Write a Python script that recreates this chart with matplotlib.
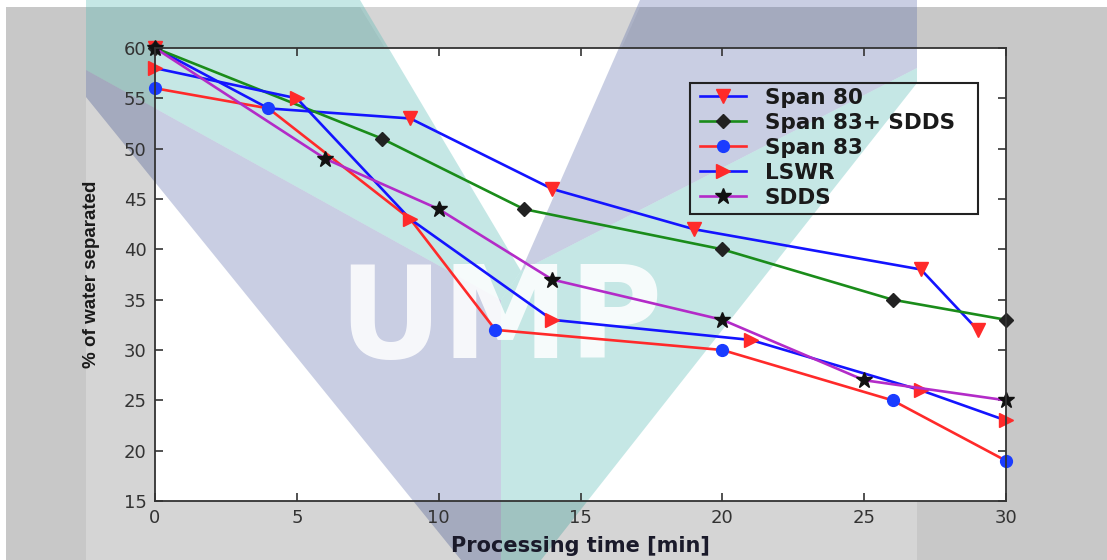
import matplotlib
matplotlib.use("Agg")
import matplotlib.pyplot as plt
from matplotlib.patches import Polygon, Rectangle

# ---------------- data ----------------
span80_x = [0, 4, 9, 14, 19, 27, 29]
span80_y = [60, 54, 53, 46, 42, 38, 32]

span83sdds_x = [0, 8, 13, 20, 26, 30]
span83sdds_y = [60, 51, 44, 40, 35, 33]

span83_x = [0, 4, 9, 12, 20, 26, 30]
span83_y = [56, 54, 43, 32, 30, 25, 19]

lswr_x = [0, 5, 9, 14, 21, 27, 30]
lswr_y = [58, 55, 43, 33, 31, 26, 23]

sdds_x = [0, 6, 10, 14, 20, 25, 30]
sdds_y = [60, 49, 44, 37, 33, 27, 25]

labels = ["Span 80", "Span 83+ SDDS", "Span 83", "LSWR", "SDDS"]
xticks = [0, 5, 10, 15, 20, 25, 30]
yticks = [15, 20, 25, 30, 35, 40, 45, 50, 55, 60]

W, H = 1107, 560
fig = plt.figure(figsize=(W / 100, H / 100), dpi=100)
fig.patch.set_facecolor("white")


def P(x, y):
    return (x / W, 1 - y / H)


def poly(pts, **kw):
    fig.add_artist(Polygon([P(*p) for p in pts], closed=True, transform=fig.transFigure,
                           linewidth=0, **kw))


# gray figure background and white plot area
fig.add_artist(Rectangle(P(6, 560), (W - 6) / W, (560 - 7) / H, transform=fig.transFigure,
                         facecolor="#c8c8c8", edgecolor="none", zorder=-3))
fig.add_artist(Rectangle(P(155, 501), 851 / W, 453 / H, transform=fig.transFigure,
                         facecolor="white", edgecolor="none", zorder=-2))

# watermark (light background pieces)
for pts in ([(86, 97), (461, 560), (86, 560)],
            [(360, 7), (640, 7), (521, 271)],
            [(917, 83), (541, 560), (917, 560)]):
    poly(pts, facecolor="white", alpha=0.25, zorder=-1)

teal = "#4fb9b3"
lav = "#5b6daa"
poly([(86, 0), (360, 0), (521, 271), (501, 300), (86, 70)], facecolor=teal, alpha=0.33, zorder=-0.5)
poly([(86, 70), (501, 300), (501, 560), (461, 560), (86, 97)], facecolor=lav, alpha=0.33, zorder=-0.5)
poly([(640, 0), (917, 0), (917, 68), (521, 271)], facecolor=lav, alpha=0.33, zorder=-0.5)
poly([(521, 271), (917, 68), (917, 83), (541, 560), (501, 560), (501, 300)], facecolor=teal,
     alpha=0.33, zorder=-0.5)
fig.text(500 / W, 1 - 358 / H, "UMP", color="white", alpha=0.85, fontsize=92,
         family="DejaVu Sans", fontweight="bold", ha="center", va="baseline", zorder=-0.4)

ax = fig.add_axes([155 / W, 59 / H, 851 / W, 453 / H])
ax.set_facecolor("none")
ax.set_zorder(1)

lw = 1.9
ms = 10
red = "#ff2a2a"
blue = "#1414ff"
ax.plot(span80_x, span80_y, color=blue, lw=lw, marker="v", ms=ms, mfc=red, mec=red,
        markevery=[0, 2, 3, 4, 5, 6], label=labels[0], clip_on=False)
ax.plot(span83sdds_x, span83sdds_y, color="#1a8c1a", lw=lw, marker="D", ms=7.5, mfc="#222222",
        mec="#222222", label=labels[1], clip_on=False)
ax.plot(span83_x, span83_y, color=red, lw=lw, marker="o", ms=8.5, mfc="#1a3cff", mec="#1a3cff",
        markevery=[0, 1, 3, 4, 5, 6], label=labels[2], clip_on=False)
ax.plot(lswr_x, lswr_y, color=blue, lw=lw, marker=">", ms=ms, mfc=red, mec=red,
        label=labels[3], clip_on=False)
ax.plot(sdds_x, sdds_y, color="#b32bc8", lw=lw, marker="*", ms=12, mfc="#111111", mec="#111111",
        label=labels[4], clip_on=False)

ax.set_xlim(0, 30)
ax.set_ylim(15, 60)
ax.set_xticks(xticks)
ax.set_yticks(yticks)
ax.tick_params(direction="in", length=6, width=1.2, top=True, right=True, colors="#333333",
               labelsize=13, pad=6)
for s in ax.spines.values():
    s.set_color("#333333")
    s.set_linewidth(1.3)

ax.set_xlabel("Processing time [min]", fontsize=15, fontweight="bold", color="#1a1a2a",
              family="DejaVu Sans", labelpad=6)
ax.set_ylabel("% of water separated", fontsize=13.5, fontweight="bold", color="#1a1a1a",
              family="Liberation Sans", labelpad=17)

# legend: entries without frame, plus a box at the reference position
leg = ax.legend(loc="upper left", bbox_to_anchor=((700 - 155) / 851, (501 - 88) / 453),
                borderaxespad=0, prop={"weight": "bold", "size": 15.5},
                handlelength=2.15, handletextpad=0.85, labelspacing=0.23, borderpad=0,
                frameon=False)
for t in leg.get_texts():
    t.set_color("#1a1a1a")
fig.add_artist(Rectangle(P(690, 214), (978 - 690) / W, (214 - 83) / H, transform=fig.transFigure,
                         facecolor="none", edgecolor="#222222", linewidth=1.5, zorder=3))

fig.savefig("out.png", dpi=100)
